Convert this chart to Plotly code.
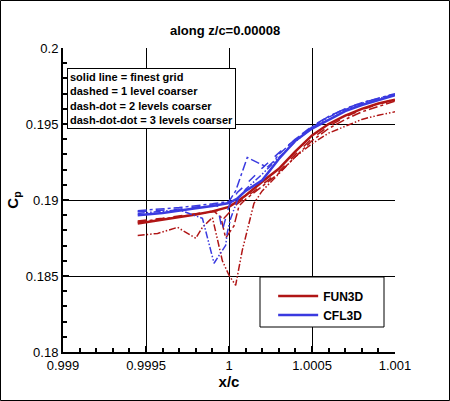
import plotly.graph_objects as go

# FUN3D (red) curves
fun_solid_x = [0.99945, 0.9996, 0.9998, 0.9999, 1.0, 1.00005, 1.0001, 1.0002, 1.0003, 1.0004, 1.0005, 1.0006, 1.0007, 1.0008, 1.0009, 1.001]
fun_solid_y = [0.18846, 0.18870, 0.18905, 0.18925, 0.18955, 0.18990, 0.19030, 0.19120, 0.19205, 0.19320, 0.19425, 0.19500, 0.19555, 0.19600, 0.19635, 0.19660]

fun_dash_x = [0.99945, 0.9996, 0.9998, 0.99993, 0.99997, 1.00001, 1.00005, 1.0001, 1.0002, 1.0003, 1.0004, 1.0005, 1.0006, 1.0007, 1.0008, 1.0009, 1.001]
fun_dash_y = [0.18862, 0.18880, 0.18910, 0.18930, 0.18880, 0.18930, 0.18975, 0.19015, 0.19100, 0.19185, 0.19300, 0.19405, 0.19485, 0.19545, 0.19595, 0.19630, 0.19665]

fun_dd_x = [0.99945, 0.9996, 0.9998, 0.99991, 0.99995, 0.99998, 1.00003, 1.00006, 1.0001, 1.0002, 1.0003, 1.0004, 1.0005, 1.0006, 1.0007, 1.0008, 1.0009, 1.001]
fun_dd_y = [0.18855, 0.18875, 0.18905, 0.18925, 0.18890, 0.18750, 0.18830, 0.18960, 0.19005, 0.19090, 0.19175, 0.19285, 0.19390, 0.19470, 0.19530, 0.19580, 0.19615, 0.19650]

fun_ddd_x = [0.99945, 0.99957, 0.99969, 0.9998, 0.99984, 0.9999, 0.99996, 1.0, 1.00004, 1.00008, 1.00011, 1.00015, 1.0002, 1.0003, 1.0004, 1.0005, 1.0006, 1.0007, 1.0008, 1.0009, 1.001]
fun_ddd_y = [0.18767, 0.18780, 0.18820, 0.18748, 0.18820, 0.18885, 0.18600, 0.18505, 0.18439, 0.18669, 0.18800, 0.18977, 0.19060, 0.19170, 0.19285, 0.19370, 0.19440, 0.19485, 0.19530, 0.19558, 0.19580]

# CFL3D (blue) curves
cfl_solid_x = [0.99945, 0.9996, 0.9998, 0.9999, 1.0, 1.00005, 1.0001, 1.0002, 1.0003, 1.0004, 1.0005, 1.0006, 1.0007, 1.0008, 1.0009, 1.001]
cfl_solid_y = [0.18900, 0.18915, 0.18945, 0.18960, 0.18980, 0.19010, 0.19060, 0.19130, 0.19270, 0.19390, 0.19470, 0.19530, 0.19585, 0.19625, 0.19660, 0.19690]

cfl_dash_x = [0.99945, 0.9997, 0.9999, 0.99993, 0.99996, 1.0, 1.00005, 1.0001, 1.0002, 1.0003, 1.0004, 1.0005, 1.0006, 1.0007, 1.0008, 1.0009, 1.001]
cfl_dash_y = [0.18922, 0.18940, 0.18968, 0.18960, 0.18800, 0.18960, 0.19050, 0.19100, 0.19210, 0.19310, 0.19400, 0.19485, 0.19550, 0.19600, 0.19640, 0.19670, 0.19695]

cfl_dd_x = [0.99945, 0.9997, 0.9999, 1.0, 1.00004, 1.00011, 1.00023, 1.00027, 1.0003, 1.0004, 1.0005, 1.0006, 1.0007, 1.0008, 1.0009, 1.001]
cfl_dd_y = [0.18930, 0.18950, 0.18975, 0.18990, 0.19060, 0.19280, 0.19215, 0.19255, 0.19300, 0.19400, 0.19480, 0.19550, 0.19600, 0.19640, 0.19670, 0.19700]

cfl_ddd_x = [0.99945, 0.9997, 0.99984, 0.99991, 0.99998, 0.99999, 1.00001, 1.00005, 1.0001, 1.0002, 1.0003, 1.0004, 1.0005, 1.0006, 1.0007, 1.0008, 1.0009, 1.001]
cfl_ddd_y = [0.18912, 0.18935, 0.18879, 0.18584, 0.18702, 0.18787, 0.18879, 0.18997, 0.19070, 0.19170, 0.19280, 0.19385, 0.19475, 0.19545, 0.19595, 0.19635, 0.19668, 0.19695]

x_ticks = [0.999, 0.9995, 1.0, 1.0005, 1.001]
x_tick_labels = ["0.999", "0.9995", "1", "1.0005", "1.001"]
y_ticks = [0.18, 0.185, 0.19, 0.195, 0.2]
y_tick_labels = ["0.18", "0.185", "0.19", "0.195", "0.2"]

RED = "#b01515"
BLUE = "#3a3ae0"
DDD = "7px,2px,1.5px,2px,1.5px,2px"

fig = go.Figure()

# red first, blue drawn on top
fig.add_trace(go.Scatter(x=fun_ddd_x, y=fun_ddd_y, mode="lines", line=dict(color=RED, width=1.5, dash=DDD), showlegend=False))
fig.add_trace(go.Scatter(x=fun_dd_x, y=fun_dd_y, mode="lines", line=dict(color=RED, width=1.5, dash="dashdot"), showlegend=False))
fig.add_trace(go.Scatter(x=fun_dash_x, y=fun_dash_y, mode="lines", line=dict(color=RED, width=1.5, dash="dash"), showlegend=False))
fig.add_trace(go.Scatter(x=fun_solid_x, y=fun_solid_y, mode="lines", name="<b>FUN3D</b>", line=dict(color=RED, width=2.5)))
fig.add_trace(go.Scatter(x=cfl_ddd_x, y=cfl_ddd_y, mode="lines", line=dict(color=BLUE, width=1.5, dash=DDD), showlegend=False))
fig.add_trace(go.Scatter(x=cfl_dd_x, y=cfl_dd_y, mode="lines", line=dict(color=BLUE, width=1.5, dash="dashdot"), showlegend=False))
fig.add_trace(go.Scatter(x=cfl_dash_x, y=cfl_dash_y, mode="lines", line=dict(color=BLUE, width=1.5, dash="dash"), showlegend=False))
fig.add_trace(go.Scatter(x=cfl_solid_x, y=cfl_solid_y, mode="lines", name="<b>CFL3D</b>", line=dict(color=BLUE, width=2.5)))

axis_common = dict(
    showline=True, linecolor="black", linewidth=2, mirror=False,
    showgrid=True, gridcolor="black", gridwidth=1,
    ticks="inside", ticklen=6, tickcolor="black", tickwidth=2,
    minor=dict(ticks="inside", ticklen=4, tickcolor="black", showgrid=False),
    zeroline=False,
    tickfont=dict(family="Liberation Sans", size=13, color="black"),
)

fig.update_xaxes(range=[0.999, 1.001], tickvals=x_ticks, ticktext=x_tick_labels,
                 title=dict(text="<b>x/c</b>", font=dict(family="Liberation Sans", size=15, color="black"), standoff=2),
                 **axis_common)
fig.update_xaxes(minor_dtick=0.0001)
fig.update_yaxes(range=[0.18, 0.2], tickvals=y_ticks, ticktext=y_tick_labels,
                 title=dict(text="<b>C<sub>p</sub></b>", font=dict(family="Liberation Sans", size=15, color="black"), standoff=4),
                 **axis_common)
fig.update_yaxes(minor_dtick=0.001)

fig.update_layout(
    width=450, height=401,
    margin=dict(l=63, r=55, t=48, b=49),
    paper_bgcolor="white", plot_bgcolor="white",
    legend=dict(x=0.633, y=0.232, xanchor="left", yanchor="top", bgcolor="rgba(0,0,0,0)",
                font=dict(family="Liberation Sans", size=12, color="black"),
                itemwidth=40, tracegroupgap=0),
    shapes=[
        # outer frame
        dict(type="rect", xref="paper", yref="paper", x0=(0.5 - 63) / 332, x1=(449.5 - 63) / 332,
             y0=(352 - 400.5) / 304, y1=(352 - 0.5) / 304,
             line=dict(color="black", width=1), fillcolor="rgba(0,0,0,0)", layer="above"),
        # legend box
        dict(type="rect", xref="paper", yref="paper", x0=(260 - 63) / 332, x1=(384 - 63) / 332,
             y0=(352 - 327) / 304, y1=(352 - 277) / 304,
             line=dict(color="black", width=1), fillcolor="white", layer="above"),
    ],
    annotations=[
        # title
        dict(xref="paper", yref="paper", x=(225 - 63) / 332, y=(352 - 30) / 304, xanchor="center", yanchor="middle",
             showarrow=False, text="<b>along z/c=0.00008</b>",
             font=dict(family="Liberation Sans", size=13, color="black")),
        # line-style key
        dict(xref="paper", yref="paper", x=(67 - 63) / 332, y=(352 - 68) / 304, xanchor="left", yanchor="top",
             align="left", showarrow=False, bgcolor="white", bordercolor="black", borderwidth=1, borderpad=2,
             text="<b>solid line = finest grid<br>dashed = 1 level coarser<br>dash-dot = 2 levels coarser<br>dash-dot-dot = 3 levels coarser</b>",
             font=dict(family="Liberation Sans", size=11, color="black")),
    ],
)

fig.write_html("out.html", config={"displayModeBar": False},
               post_script="document.body.style.margin='0';document.body.style.overflow='hidden';")
